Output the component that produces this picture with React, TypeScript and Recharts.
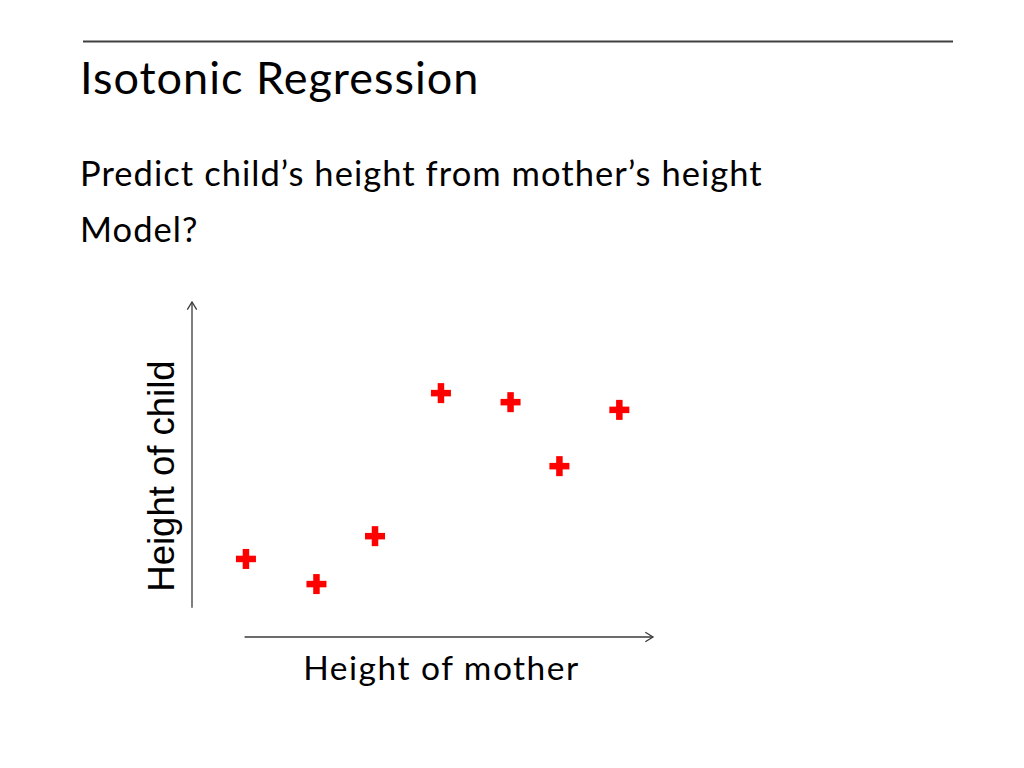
import { ReferenceLine, Scatter, ScatterChart, XAxis, YAxis } from "recharts";

// slide text
const slideTitle = "Isotonic Regression";
const bulletLines = ["Predict child\u2019s height from mother\u2019s height", "Model?"];
const xAxisLabel = "Height of mother";
const yAxisLabel = "Height of child";

// mother's height (x) and child's height (y), arbitrary units 0..100
const motherHeights = [11.7, 27.0, 39.7, 54.0, 69.1, 79.7, 92.7];
const childHeights = [23.3, 15.8, 30.1, 72.8, 70.1, 51.0, 67.8];
const axisDomain: [number, number] = [0, 100];
const yAxisStart = 8.7;
const xAxisStart = 11.4;

const points = motherHeights.map((x, i) => ({ x, y: childHeights[i] }));

const AXIS_COLOR = "#3a3a3a";
const MARK_COLOR = "#ff0000";

function PlusMark(props: any) {
    const { cx, cy } = props;
    const len = 20;
    const w = 6.5;
    return (
        <g>
            <rect x={cx - len / 2} y={cy - w / 2} width={len} height={w} fill={MARK_COLOR} />
            <rect x={cx - w / 2} y={cy - len / 2} width={w} height={len} fill={MARK_COLOR} />
        </g>
    );
}

function ArrowLine(props: any) {
    const { x1, y1, x2, y2 } = props;
    const ang = Math.atan2(y2 - y1, x2 - x1);
    const head = 9;
    const spread = 0.55;
    const ax = x2 - head * Math.cos(ang - spread);
    const ay = y2 - head * Math.sin(ang - spread);
    const bx = x2 - head * Math.cos(ang + spread);
    const by = y2 - head * Math.sin(ang + spread);
    return (
        <g>
            <line x1={x1} y1={y1} x2={x2} y2={y2} stroke={AXIS_COLOR} strokeWidth={1.3} />
            <polyline points={`${ax},${ay} ${x2},${y2} ${bx},${by}`} fill="none" stroke={AXIS_COLOR} strokeWidth={1.3} />
        </g>
    );
}

export default function App() {
    return (
        <div style={{ position: "absolute", left: 0, top: 0, width: 1024, height: 768, background: "#fff" }}>
            <svg width={1024} height={768} style={{ position: "absolute", left: 0, top: 0 }}>
                <line x1={83} y1={41.5} x2={953} y2={41.5} stroke="#404040" strokeWidth={2} />
                <text x={80} y={94} fontFamily="Lato" fontSize={45} letterSpacing={1} fill="#000">
                    {slideTitle}
                </text>
                {bulletLines.map((t, i) => (
                    <text key={t} x={80} y={186 + i * 56} fontFamily="Lato" fontSize={34.5} letterSpacing={1.05} fill="#000">
                        {t}
                    </text>
                ))}
            </svg>
            <div style={{ position: "absolute", left: 0, top: 0 }}>
                <ScatterChart width={1024} height={768} margin={{ top: 302, right: 371, bottom: 71, left: 132 }}>
                    <XAxis
                        type="number"
                        dataKey="x"
                        domain={axisDomain}
                        axisLine={false}
                        tickLine={false}
                        tick={false}
                        height={60}
                        label={{
                            content: ({ viewBox }: any) => (
                                <text
                                    x={viewBox.x + viewBox.width / 2 + 19}
                                    y={viewBox.y + 43}
                                    textAnchor="middle"
                                    fontFamily="Lato"
                                    fontSize={33.5}
                                    letterSpacing={1.5}
                                    fill="#000"
                                >
                                    {xAxisLabel}
                                </text>
                            ),
                        }}
                    />
                    <YAxis
                        type="number"
                        dataKey="y"
                        domain={axisDomain}
                        axisLine={false}
                        tickLine={false}
                        tick={false}
                        width={60}
                        label={{
                            content: ({ viewBox }: any) => {
                                const lx = viewBox.x + 42;
                                const ly = viewBox.y + viewBox.height / 2 + 6.5;
                                return (
                                    <text
                                        x={lx}
                                        y={ly}
                                        transform={`rotate(-90, ${lx}, ${ly})`}
                                        textAnchor="middle"
                                        fontFamily="Liberation Sans"
                                        fontSize={36.5}
                                        fill="#000"
                                    >
                                        {yAxisLabel}
                                    </text>
                                );
                            },
                        }}
                    />
                    <ReferenceLine
                        segment={[{ x: 0, y: yAxisStart }, { x: 0, y: axisDomain[1] }]}
                        ifOverflow="visible"
                        shape={ArrowLine}
                    />
                    <ReferenceLine
                        segment={[{ x: xAxisStart, y: 0 }, { x: axisDomain[1], y: 0 }]}
                        ifOverflow="visible"
                        shape={ArrowLine}
                    />
                    <Scatter data={points} shape={PlusMark} isAnimationActive={false} />
                </ScatterChart>
            </div>
        </div>
    );
}
